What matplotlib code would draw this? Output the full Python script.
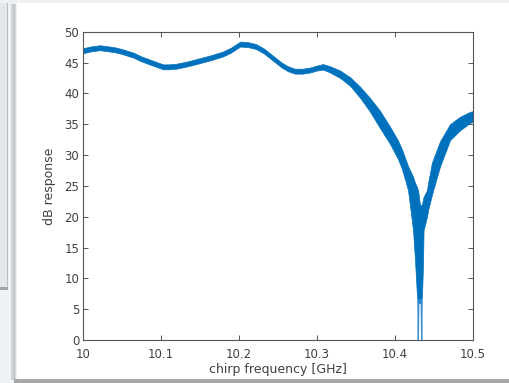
import numpy as np
import matplotlib
matplotlib.use("Agg")
import matplotlib.pyplot as plt
from matplotlib.patches import Rectangle

# ---- data (frequency in GHz, response in dB) ----
# smooth part of the trace: centre value and half-thickness of the noisy band
freq_flat = [10.000, 10.010, 10.022, 10.040, 10.050, 10.065, 10.075, 10.090,
             10.103, 10.110, 10.120, 10.135, 10.150, 10.165, 10.180, 10.190,
             10.202, 10.212, 10.222, 10.232, 10.244, 10.255, 10.263, 10.272,
             10.282, 10.292, 10.300, 10.308, 10.317, 10.330, 10.343]
db_flat = [46.9, 47.2, 47.4, 47.1, 46.8, 46.2, 45.6, 44.9,
           44.3, 44.3, 44.4, 44.8, 45.3, 45.8, 46.4, 47.0,
           48.0, 47.9, 47.6, 46.9, 45.7, 44.6, 44.0, 43.6,
           43.6, 43.8, 44.1, 44.3, 43.9, 43.1, 41.9]
noise_flat = [0.4, 0.4, 0.4, 0.4, 0.4, 0.4, 0.4, 0.4,
              0.4, 0.4, 0.4, 0.4, 0.4, 0.4, 0.4, 0.4,
              0.4, 0.4, 0.4, 0.4, 0.4, 0.4, 0.4, 0.4,
              0.4, 0.4, 0.4, 0.45, 0.5, 0.6, 0.7]

# notch part of the trace: upper and lower edge of the noisy band
freq_notch = [10.3555, 10.368, 10.381, 10.394, 10.404, 10.4094, 10.4171,
              10.4235, 10.426, 10.4286, 10.4299, 10.4325, 10.435, 10.4363,
              10.437, 10.4414, 10.4427, 10.4478, 10.458, 10.4709, 10.4837,
              10.4965, 10.500]
db_upper = [41.1, 39.3, 37.2, 34.6, 32.4, 30.9, 28.2,
            26.5, 25.5, 24.8, 24.3, 21.8, 22.0, 22.8,
            23.2, 24.3, 25.4, 28.8, 32.2, 35.0, 36.2,
            37.0, 37.1]
db_lower = [39.3, 37.1, 34.4, 31.8, 29.4, 27.7, 24.3,
            17.8, 13.0, 7.0, 6.0, 6.0, 7.0, 12.5,
            17.8, 20.0, 21.0, 23.6, 28.1, 32.4, 34.0,
            35.2, 35.4]

# deepest samples in the notch
freq_spikes = [10.4297, 10.4303, 10.4309, 10.4340, 10.4346, 10.4352]
db_spikes = [6.5, 0.0, 6.5, 6.5, 0.0, 6.5]

xticks = [10, 10.1, 10.2, 10.3, 10.4, 10.5]
xticklabels = ["10", "10.1", "10.2", "10.3", "10.4", "10.5"]
yticks = [0, 5, 10, 15, 20, 25, 30, 35, 40, 45, 50]

# ---- figure ----
W, H = 510, 383
fig = plt.figure(figsize=(W / 100, H / 100), dpi=100)
fig.patch.set_facecolor("white")

def rect(x0, y0, x1, y1, color, z=0):
    fig.patches.append(Rectangle((x0 / W, 1 - y1 / H), (x1 - x0) / W, (y1 - y0) / H,
                                 transform=fig.transFigure, facecolor=color,
                                 edgecolor="none", zorder=z))

# screenshot frame decoration
rect(0, 0, 17, H, "#eef2f5")
rect(0, 0, 8, 288, "#e3e7ea")
rect(7, 0, 8.5, 289, "#b8bcc0")
rect(0, 287, 8.5, 290, "#9fa3a6")
rect(11, 4, 16, 380, "#cfd4d8")
rect(13, 4, 15, 380, "#c3c8cc")
rect(0, 0, W, 3, "#eef1f4")
rect(14, 379, W, 383, "#a8a8a8")

ax = fig.add_axes([82.7 / W, 1 - 340 / H, 390 / W, (340 - 31.7) / H])
ax.set_facecolor("white")

blue = "#0072BD"
f_flat = np.array(freq_flat)
c_flat = np.array(db_flat)
n_flat = np.array(noise_flat)
freq_all = np.concatenate([f_flat, freq_notch])
up_all = np.concatenate([c_flat + n_flat, db_upper])
lo_all = np.concatenate([c_flat - n_flat, db_lower])

ax.fill_between(freq_all, lo_all, up_all, color=blue, lw=0.5, edgecolor=blue, zorder=2)
ax.plot(freq_spikes, db_spikes, color="#3b8fcf", lw=0.9, zorder=2)

ax.set_xlim(10, 10.5)
ax.set_ylim(0, 50)
ax.set_xticks(xticks)
ax.set_xticklabels(xticklabels)
ax.set_yticks(yticks)

for s in ax.spines.values():
    s.set_color("#555555")
    s.set_linewidth(0.8)
ax.tick_params(direction="in", length=3.5, width=0.7, colors="#555555",
               labelcolor="#404040", labelsize=8.5, top=True, right=True)
ax.tick_params(axis="x", pad=5.5)
ax.tick_params(axis="y", pad=2.5)

ax.set_xlabel("chirp frequency [GHz]", fontsize=9, color="#404040", labelpad=2)
ax.set_ylabel("dB response", fontsize=9, color="#404040", labelpad=6)

fig.savefig("out.png", dpi=100, facecolor=fig.get_facecolor())
